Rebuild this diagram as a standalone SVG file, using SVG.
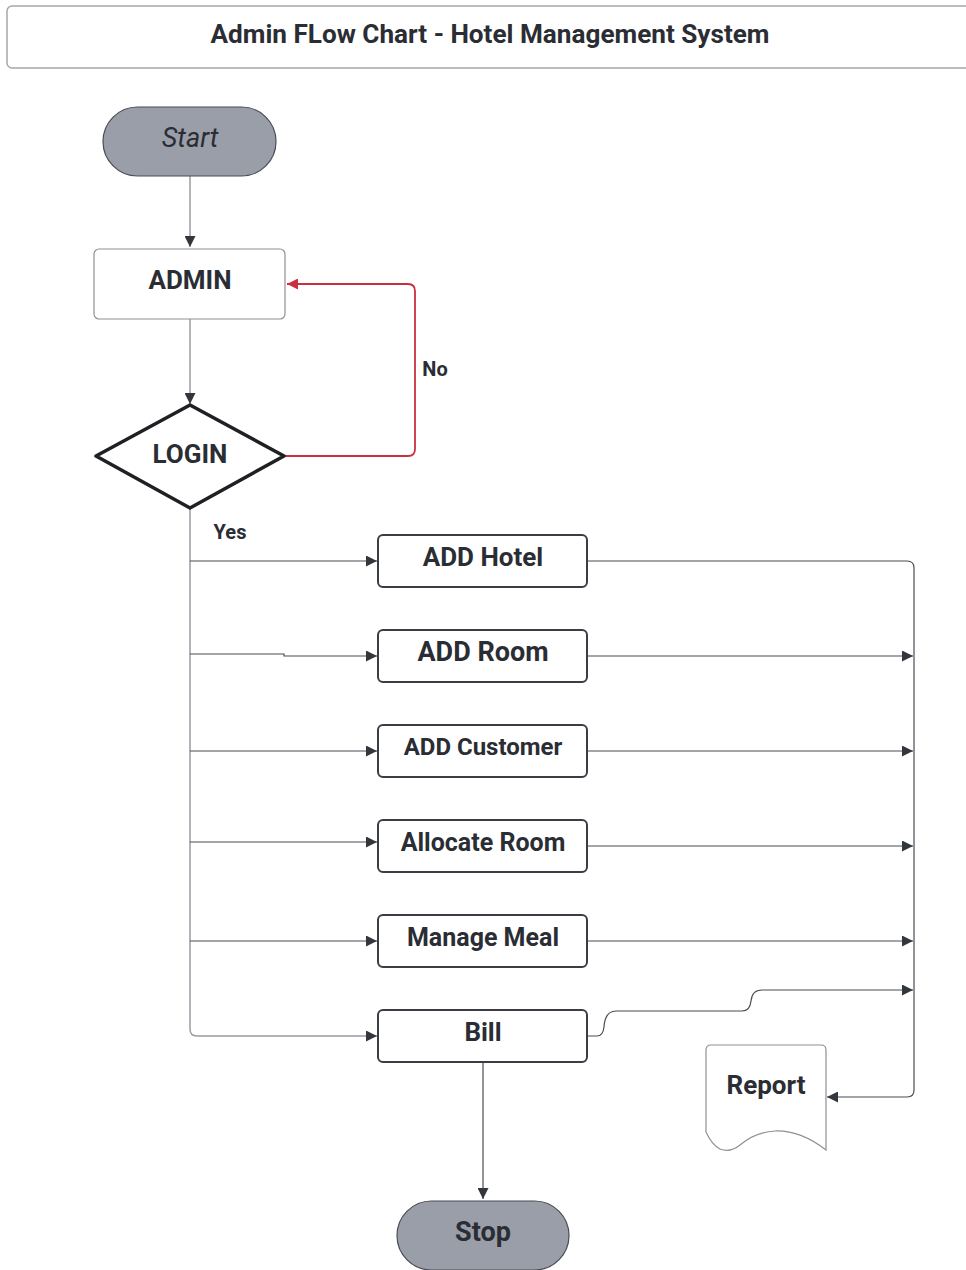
<svg xmlns="http://www.w3.org/2000/svg" width="966" height="1270" viewBox="0 0 966 1270">
  <style>
    .lbl { font-family: Roboto, "Liberation Sans", sans-serif; font-weight: bold; fill: #2a2d33; text-anchor: middle; dominant-baseline: central; }
    .it { font-weight: normal; font-style: italic; }
    .proc { fill: #ffffff; stroke: #3a3d44; stroke-width: 2; }
    .term { fill: #9a9ea8; stroke: #4a4d55; stroke-width: 1.2; }
    .wire { fill: none; stroke: #4a4d55; stroke-width: 1.2; }
    .grey { fill: none; stroke: #9a9ca2; stroke-width: 1.5; }
    .red { fill: none; stroke: #c8303f; stroke-width: 1.8; }
  </style>
  <defs>
    <marker id="arr" viewBox="0 0 10 10" refX="10" refY="5" markerWidth="13" markerHeight="11" markerUnits="userSpaceOnUse" orient="auto">
      <path d="M0,0 L10,5 L0,10 z" fill="#33363d"/>
    </marker>
    <marker id="arrRed" viewBox="0 0 10 10" refX="10" refY="5" markerWidth="13" markerHeight="11" markerUnits="userSpaceOnUse" orient="auto">
      <path d="M0,0 L10,5 L0,10 z" fill="#c8303f"/>
    </marker>
  </defs>

  <rect width="966" height="1270" fill="#ffffff"/>

  <!-- title bar -->
  <g id="title">
    <rect x="7" y="6" width="975" height="62" rx="5" fill="#ffffff" stroke="#a6a8ac" stroke-width="1.5"/>
    <text class="lbl" x="490" y="34" font-size="26" textLength="559" lengthAdjust="spacingAndGlyphs">Admin FLow Chart - Hotel Management System</text>
  </g>

  <!-- connectors -->
  <g id="connectors">
    <path class="grey" d="M190,176 V247" marker-end="url(#arr)"/>
    <path class="grey" d="M190,319 V404" marker-end="url(#arr)"/>
    <path class="red" d="M284,456 H408 Q415,456 415,449 V291 Q415,284 408,284 H287" marker-end="url(#arrRed)"/>
    <path class="grey" d="M190,508 V1029 Q190,1036 197,1036 H377" marker-end="url(#arr)"/>
    <path class="wire" d="M190,561 H377" marker-end="url(#arr)"/>
    <path class="wire" d="M190,654 H284 V656 H377" marker-end="url(#arr)"/>
    <path class="wire" d="M190,751 H377" marker-end="url(#arr)"/>
    <path class="wire" d="M190,842 H377" marker-end="url(#arr)"/>
    <path class="wire" d="M190,941 H377" marker-end="url(#arr)"/>
    <path class="wire" d="M587,561 H907 Q914,561 914,568 V1090 Q914,1097 907,1097 H827" marker-end="url(#arr)"/>
    <path class="wire" d="M587,656 H913" marker-end="url(#arr)"/>
    <path class="wire" d="M587,751 H913" marker-end="url(#arr)"/>
    <path class="wire" d="M587,846 H913" marker-end="url(#arr)"/>
    <path class="wire" d="M587,941 H913" marker-end="url(#arr)"/>
    <path class="wire" d="M587,1036 H597 Q603,1036 604,1027 Q605,1011 616,1011 H742 Q750,1011 751,1001 Q752,990 762,990 H913" marker-end="url(#arr)"/>
    <path class="wire" d="M483,1062 V1199" marker-end="url(#arr)"/>
    <text class="lbl" x="435" y="369" font-size="20">No</text>
    <text class="lbl" x="230" y="532" font-size="20">Yes</text>
  </g>

  <!-- nodes -->
  <g id="start">
    <rect class="term" x="103" y="107" width="173" height="69" rx="34.5"/>
    <text class="lbl it" x="190" y="138" font-size="27">Start</text>
  </g>

  <g id="admin">
    <rect x="94" y="249" width="191" height="70" rx="5" fill="#ffffff" stroke="#8e9096" stroke-width="1.2"/>
    <text class="lbl" x="190" y="280" font-size="26">ADMIN</text>
  </g>

  <g id="login">
    <path d="M190,405 L284,456 L190,508 L96,456 Z" fill="#ffffff" stroke="#1e2024" stroke-width="3.5" stroke-linejoin="round"/>
    <text class="lbl" x="190" y="454" font-size="26">LOGIN</text>
  </g>

  <g id="add-hotel">
    <rect class="proc" x="378" y="535" width="209" height="52" rx="5"/>
    <text class="lbl" x="483" y="557" font-size="26">ADD Hotel</text>
  </g>

  <g id="add-room">
    <rect class="proc" x="378" y="630" width="209" height="52" rx="5"/>
    <text class="lbl" x="483" y="652" font-size="27">ADD Room</text>
  </g>

  <g id="add-customer">
    <rect class="proc" x="378" y="725" width="209" height="52" rx="5"/>
    <text class="lbl" x="483" y="747" font-size="24">ADD Customer</text>
  </g>

  <g id="allocate-room">
    <rect class="proc" x="378" y="820" width="209" height="52" rx="5"/>
    <text class="lbl" x="483" y="842" font-size="25">Allocate Room</text>
  </g>

  <g id="manage-meal">
    <rect class="proc" x="378" y="915" width="209" height="52" rx="5"/>
    <text class="lbl" x="483" y="937" font-size="25">Manage Meal</text>
  </g>

  <g id="bill">
    <rect class="proc" x="378" y="1010" width="209" height="52" rx="5"/>
    <text class="lbl" x="483" y="1032" font-size="26">Bill</text>
  </g>

  <g id="report">
    <path d="M711,1045 H821 Q826,1045 826,1050 V1150 Q800,1130 775,1131 Q755,1132 740,1145 Q730,1153 720,1149 Q712,1145 706,1132 V1050 Q706,1045 711,1045 Z" fill="#ffffff" stroke="#8e9096" stroke-width="1.2"/>
    <text class="lbl" x="766" y="1085" font-size="26">Report</text>
  </g>

  <g id="stop">
    <rect class="term" x="397" y="1201" width="172" height="69" rx="34.5"/>
    <text class="lbl" x="483" y="1232" font-size="27">Stop</text>
  </g>
</svg>
